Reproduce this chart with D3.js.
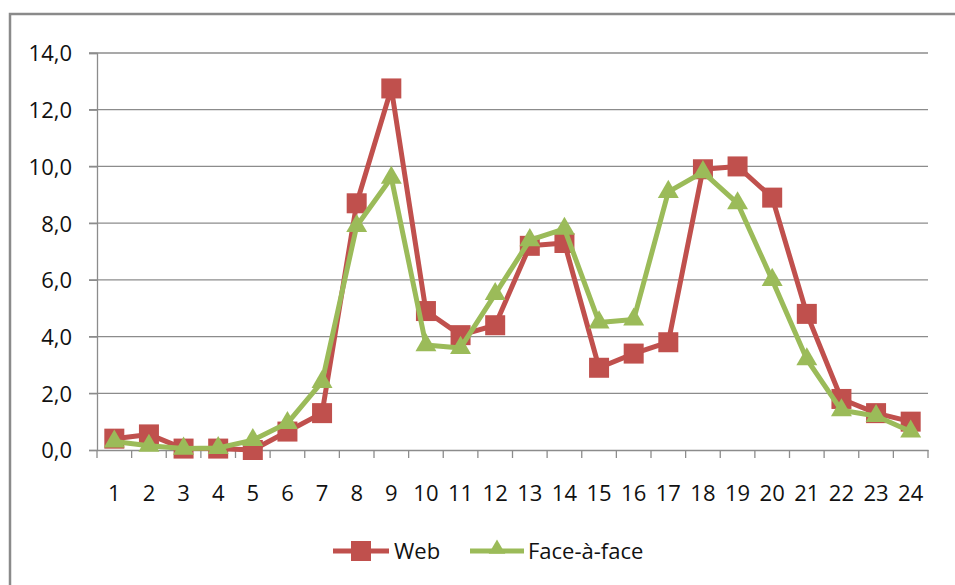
<!DOCTYPE html>
<html>
<head>
<meta charset="utf-8">
<script src="https://cdn.jsdelivr.net/npm/d3@7"></script>
<style>
  html, body { margin: 0; padding: 0; background: #fff; }
  svg { display: block; }
  text { font-family: "Open Sans", "Noto Sans", sans-serif; fill: #111; }
</style>
</head>
<body>
<svg id="chart" width="955" height="585"></svg>
<script>
const categories = ["1","2","3","4","5","6","7","8","9","10","11","12","13","14","15","16","17","18","19","20","21","22","23","24"];
const webValues = [0.4, 0.55, 0.05, 0.05, 0.0, 0.65, 1.3, 8.7, 12.75, 4.9, 4.05, 4.4, 7.2, 7.3, 2.9, 3.4, 3.8, 9.9, 10.0, 8.9, 4.8, 1.8, 1.3, 1.0];
const faceValues = [0.3, 0.15, 0.05, 0.07, 0.35, 0.95, 2.4, 7.9, 9.6, 3.7, 3.6, 5.5, 7.4, 7.8, 4.5, 4.6, 9.1, 9.8, 8.7, 6.0, 3.2, 1.4, 1.2, 0.65];
const yTicks = [0, 2, 4, 6, 8, 10, 12, 14];
const seriesNames = ["Web", "Face-à-face"];
const seriesColors = ["#C0504D", "#9BBB59"];

const svg = d3.select("#chart");
const plotLeft = 97, plotRight = 928, plotTop = 53, plotBottom = 450;
const fontSize = 22;

// outer frame (clipped at right/bottom like the reference)
svg.append("path")
  .attr("d", `M10,600 L10,14 L960,14`)
  .attr("fill", "none").attr("stroke", "#8a8a8a").attr("stroke-width", 2.5);

const x = d3.scaleBand().domain(categories).range([plotLeft, plotRight]).paddingInner(0).paddingOuter(0);
const y = d3.scaleLinear().domain([0, 14]).range([plotBottom, plotTop]);

// gridlines
svg.append("g").selectAll("line").data(yTicks.filter(d => d > 0)).join("line")
  .attr("x1", plotLeft - 8).attr("x2", plotRight)
  .attr("y1", d => y(d)).attr("y2", d => y(d))
  .attr("stroke", "#8c8c8c").attr("stroke-width", 1.3);

// y axis
const yAxis = d3.axisLeft(y).tickValues(yTicks).tickSize(8).tickPadding(8)
  .tickFormat(d => d3.format(".1f")(d).replace(".", ","));
const gy = svg.append("g").attr("transform", `translate(${plotLeft},0)`).call(yAxis);
gy.select(".domain").attr("stroke", "#8c8c8c").attr("stroke-width", 1.3);
gy.selectAll(".tick line").attr("stroke", "#8c8c8c").attr("stroke-width", 1.3);
gy.selectAll(".tick text").attr("font-size", fontSize).attr("fill", "#111")
  .attr("font-family", "'Open Sans', sans-serif").attr("x", -25).attr("dy", "0.36em");

// x axis
const xAxis = d3.axisBottom(x).tickSize(0).tickPadding(35);
const gx = svg.append("g").attr("transform", `translate(0,${plotBottom})`).call(xAxis);
gx.select(".domain").attr("stroke", "#8c8c8c").attr("stroke-width", 1.3);
gx.selectAll(".tick text").attr("font-size", fontSize).attr("fill", "#111")
  .attr("font-family", "'Open Sans', sans-serif");
// category boundary ticks
const bounds = categories.map(c => x(c)).concat([plotRight]);
gx.append("g").selectAll("line").data(bounds).join("line")
  .attr("x1", d => d).attr("x2", d => d).attr("y1", 0).attr("y2", 8)
  .attr("stroke", "#8c8c8c").attr("stroke-width", 1.3);

const cx = c => x(c) + x.bandwidth() / 2;
const line = d3.line().x((d, i) => cx(categories[i])).y(d => y(d));

// Web series
svg.append("path").datum(webValues).attr("d", line)
  .attr("fill", "none").attr("stroke", seriesColors[0]).attr("stroke-width", 5)
  .attr("stroke-linejoin", "round");
svg.append("g").selectAll("rect").data(webValues).join("rect")
  .attr("x", (d, i) => cx(categories[i]) - 10).attr("y", d => y(d) - 10)
  .attr("width", 20).attr("height", 20).attr("fill", seriesColors[0]);

// Face series
const tri = d3.symbol().type(d3.symbolTriangle).size(190);
svg.append("path").datum(faceValues).attr("d", line)
  .attr("fill", "none").attr("stroke", seriesColors[1]).attr("stroke-width", 5)
  .attr("stroke-linejoin", "round");
svg.append("g").selectAll("path").data(faceValues).join("path")
  .attr("d", tri)
  .attr("transform", (d, i) => `translate(${cx(categories[i])},${y(d)})`)
  .attr("fill", seriesColors[1]);

// legend
const lg = svg.append("g");
const legendItems = [
  { name: seriesNames[0], color: seriesColors[0], x0: 333, x1: 389, tx: 394, type: "square" },
  { name: seriesNames[1], color: seriesColors[1], x0: 470, x1: 524, tx: 528, type: "tri" }
];
const ly = 551;
legendItems.forEach(it => {
  lg.append("line").attr("x1", it.x0).attr("x2", it.x1).attr("y1", ly).attr("y2", ly)
    .attr("stroke", it.color).attr("stroke-width", 5);
  const mx = (it.x0 + it.x1) / 2;
  if (it.type === "square") {
    lg.append("rect").attr("x", mx - 10).attr("y", ly - 10).attr("width", 20).attr("height", 20).attr("fill", it.color);
  } else {
    lg.append("path").attr("d", d3.symbol().type(d3.symbolTriangle).size(120)())
      .attr("transform", `translate(${mx},${ly - 2})`).attr("fill", it.color);
  }
  lg.append("text").attr("x", it.tx).attr("y", ly + 8).attr("font-size", fontSize).text(it.name);
});
</script>
</body>
</html>
